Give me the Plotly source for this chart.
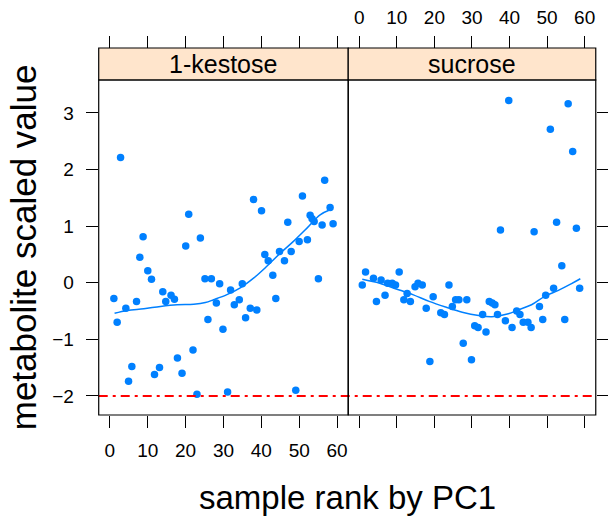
import plotly.graph_objects as go

# ---- data ----
panels = ["1-kestose", "sucrose"]

kestose_rank = [2.82, 1.05, 4.22, 1.92, 4.93, 5.80, 7.04, 7.91, 8.77, 10.01, 10.99, 11.78, 13.10, 13.97, 14.76,
                16.15, 17.05, 17.84, 19.05, 20.03, 20.82, 21.95, 23.00, 23.90, 25.11, 25.89, 26.80, 28.12, 28.99, 29.86,
                31.09, 31.88, 32.86, 34.18, 34.97, 35.84, 37.08, 37.94, 38.81, 40.05, 40.92, 41.82, 43.03, 43.82, 44.80,
                46.11, 46.98, 47.88, 49.09, 49.99, 50.86, 52.17, 52.89, 53.41, 53.94, 55.07, 56.05, 56.73, 58.16, 58.95]
kestose_value = [2.21, -0.28, -0.45, -0.70, -1.74, -1.48, -0.33, 0.45, 0.81, 0.21, 0.06, -1.62, -1.50, -0.16, -0.33,
                 -0.22, -0.29, -1.33, -1.60, 0.65, 1.21, -1.19, -1.97, 0.79, 0.07, -0.65, 0.07, -0.36, -0.02, -0.82,
                 -1.93, -0.13, -0.39, -0.30, -0.02, -0.62, -0.45, 1.47, -0.48, 1.27, 0.50, 0.39, 0.13, -0.28, 0.55,
                 0.39, 1.07, 0.55, -1.90, 0.73, 1.53, 0.76, 1.19, 1.13, 1.08, 0.07, 1.02, 1.81, 1.33, 1.04]
kestose_smooth_x = [1.24, 4.56, 8.96, 13.36, 17.73, 22.13, 25.22, 27.40, 30.91, 34.44, 37.94, 41.45, 44.98, 48.48,
                    51.99, 55.52, 58.16]
kestose_smooth_y = [-0.54, -0.49, -0.46, -0.42, -0.39, -0.38, -0.35, -0.30, -0.21, -0.09, 0.08, 0.29, 0.52, 0.73,
                    0.96, 1.20, 1.29]

sucrose_rank = [0.79, 1.66, 3.77, 4.56, 5.80, 6.85, 7.54, 8.77, 9.64, 10.62, 11.86, 12.73, 13.60, 14.84, 15.63,
                16.76, 17.81, 18.79, 19.66, 21.69, 22.66, 23.87, 24.77, 25.64, 26.51, 27.67, 28.62, 29.86, 30.72, 31.62,
                32.83, 33.73, 34.60, 35.39, 36.10, 36.79, 37.58, 38.89, 39.79, 40.66, 41.90, 42.77, 43.64, 44.88, 45.74,
                46.54, 47.96, 48.83, 49.62, 50.86, 51.73, 52.52, 53.91, 54.70, 55.60, 56.81, 57.79, 58.66]
sucrose_value = [-0.04, 0.19, 0.08, -0.33, 0.05, -0.22, -0.01, -0.01, -0.04, 0.19, -0.30, -0.19, -0.33, -0.07, -0.01,
                 -0.04, -0.45, -1.39, -0.25, -0.53, -0.56, -0.04, -0.42, -0.30, -0.30, -1.07, -0.30, -1.36, -0.76, -0.79,
                 -0.56, -0.87, -0.33, -0.36, -0.39, -0.56, 0.93, -0.67, 3.22, -0.79, -0.50, -0.56, -0.70, -0.70, -0.79,
                 0.90, -0.42, -0.65, -0.22, 2.71, -0.10, 1.07, 0.30, -0.65, 3.16, 2.32, 0.96, -0.10]
sucrose_smooth_x = [0.79, 5.43, 9.83, 14.23, 18.60, 23.00, 27.40, 31.78, 35.31, 39.68, 42.32, 45.85, 49.36, 52.86,
                    56.39, 58.84]
sucrose_smooth_y = [0.06, -0.01, -0.11, -0.21, -0.33, -0.43, -0.52, -0.58, -0.60, -0.55, -0.48, -0.39, -0.24, -0.14,
                    -0.02, 0.07]

reference_level = -2
x_ticks = [0, 10, 20, 30, 40, 50, 60]
y_ticks = [-2, -1, 0, 1, 2, 3]

# ---- layout geometry (body margin removed by post_script) ----
W, H = 608, 518
px = lambda v: v / W
py = lambda v: (H - v) / H
P1 = (px(99.7), px(351.7))
P2 = (px(351.7), px(601.7))
Y_DOM = (py(415), py(80))
STRIP = (py(80), py(48))
XR = [-2.95, 62.95]
YR = [-2.337, 3.581]

BLUE = "#0080ff"
FONT = "Liberation Sans, Arial, sans-serif"

fig = go.Figure()
for (rx, vy, sx, sy, xa) in [(kestose_rank, kestose_value, kestose_smooth_x, kestose_smooth_y, "x"),
                             (sucrose_rank, sucrose_value, sucrose_smooth_x, sucrose_smooth_y, "x2")]:
    fig.add_trace(go.Scatter(x=rx, y=vy, mode="markers", xaxis=xa, yaxis="y",
                             marker=dict(color=BLUE, size=7.5, line=dict(width=0)), showlegend=False))
    fig.add_trace(go.Scatter(x=sx, y=sy, mode="lines", xaxis=xa, yaxis="y", line_shape="spline",
                             line=dict(color=BLUE, width=1.5), showlegend=False))

tick_common = dict(ticks="outside", ticklen=12, tickwidth=1, tickcolor="black", showgrid=False, zeroline=False,
                   showline=False, tickfont=dict(family=FONT, size=19, color="black"))

fig.update_layout(
    width=W, height=H, autosize=False,
    margin=dict(l=0, r=0, t=0, b=0),
    paper_bgcolor="white", plot_bgcolor="white",
    xaxis=dict(domain=list(P1), range=XR, anchor="y", tickvals=x_ticks, **tick_common, ticklabelstandoff=6),
    xaxis2=dict(domain=list(P2), range=XR, anchor="y", tickvals=x_ticks, showticklabels=False, **tick_common),
    xaxis3=dict(overlaying="x", matches="x", side="top", anchor="free", position=STRIP[1], tickvals=x_ticks,
                showticklabels=False, **tick_common),
    xaxis4=dict(overlaying="x2", matches="x2", side="top", anchor="free", position=STRIP[1], tickvals=x_ticks,
                showticklabels=True, **tick_common, ticklabelstandoff=4),
    yaxis=dict(domain=list(Y_DOM), range=YR, anchor="x", tickvals=y_ticks, **tick_common, ticklabelstandoff=8),
    yaxis2=dict(overlaying="y", matches="y", side="right", anchor="x2", tickvals=y_ticks,
                showticklabels=False, **tick_common),
)
# dummy traces to activate overlay axes
fig.add_trace(go.Scatter(x=[None], y=[None], xaxis="x3", yaxis="y", showlegend=False, hoverinfo="skip"))
fig.add_trace(go.Scatter(x=[None], y=[None], xaxis="x4", yaxis="y2", showlegend=False, hoverinfo="skip"))

# reference line
fig.add_shape(type="line", xref="paper", yref="y", x0=P1[0], x1=P2[1], y0=reference_level, y1=reference_level,
              line=dict(color="red", width=2, dash="9px,5px,3px,5px"))

# panel borders and strips
for (d, name) in [(P1, panels[0]), (P2, panels[1])]:
    fig.add_shape(type="rect", xref="paper", yref="paper", x0=d[0], x1=d[1], y0=Y_DOM[0], y1=Y_DOM[1],
                  line=dict(color="black", width=1.2), fillcolor="rgba(0,0,0,0)")
    fig.add_shape(type="rect", xref="paper", yref="paper", x0=d[0], x1=d[1], y0=STRIP[0], y1=STRIP[1],
                  line=dict(color="black", width=1.2), fillcolor="#ffe5cc", layer="below")
    fig.add_annotation(xref="paper", yref="paper", x=(d[0] + d[1]) / 2, y=(STRIP[0] + STRIP[1]) / 2,
                       text=name, showarrow=False, xanchor="center", yanchor="middle",
                       font=dict(family=FONT, size=25, color="black"))

fig.add_annotation(xref="paper", yref="paper", x=(P1[0] + P2[1]) / 2, y=py(497), text="sample rank by PC1",
                   showarrow=False, xanchor="center", yanchor="middle", font=dict(family=FONT, size=33, color="black"))
fig.add_annotation(xref="paper", yref="paper", x=px(24), y=(Y_DOM[0] + Y_DOM[1]) / 2, text="metabolite scaled value",
                   textangle=-90, showarrow=False, xanchor="center", yanchor="middle",
                   font=dict(family=FONT, size=35, color="black"))

fig.write_html("out.html", config={"displayModeBar": False},
               post_script="document.body.style.margin='0';document.body.style.overflow='hidden';")
